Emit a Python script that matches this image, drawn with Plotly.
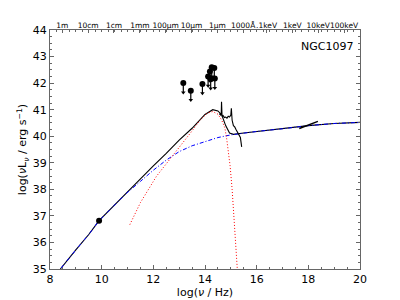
import plotly.graph_objects as go

# ---- data ----
total_x = [8.2, 8.4, 9.0, 9.5, 9.9, 10.4, 10.9, 11.5, 12.0, 12.5, 13.0, 13.5, 13.8, 14.0, 14.3,
           14.5, 14.65, 14.8, 14.95, 15.1, 15.5, 16.0, 17.0, 18.0, 19.0, 20.0]
total_y = [34.78, 35.0, 35.72, 36.3, 36.82, 37.32, 37.82, 38.38, 38.88, 39.35, 39.85, 40.3, 40.62, 40.82, 41.0,
           40.95, 40.8, 40.4, 40.12, 40.07, 40.12, 40.18, 40.28, 40.4, 40.48, 40.52]

agn_x = [8.2, 8.4, 9.0, 9.5, 9.9, 10.4, 10.9, 11.5, 12.0, 12.5, 13.0, 13.5, 14.0, 14.5, 15.0,
         15.5, 16.0, 17.0, 18.0, 19.0, 20.0]
agn_y = [34.78, 35.0, 35.72, 36.3, 36.82, 37.32, 37.8, 38.3, 38.72, 39.1, 39.42, 39.64, 39.8, 39.95, 40.05,
         40.12, 40.18, 40.28, 40.4, 40.48, 40.52]

host_x = [11.09, 11.5, 12.12, 12.5, 13.03, 13.5, 13.8, 14.1, 14.3, 14.5, 14.65, 14.77, 14.84, 14.97,
          15.05, 15.15, 15.27, 15.35]
host_y = [36.67, 37.5, 38.49, 38.95, 39.62, 40.2, 40.6, 40.88, 40.93, 40.83, 40.6, 40.31, 39.9, 38.9,
          38.0, 36.6, 35.0, 33.5]

spec_x = [14.55, 14.6, 14.63, 14.64, 14.66, 14.7, 14.75, 14.8, 14.85, 14.9, 14.95, 15.0, 15.02, 15.03,
          15.05, 15.1, 15.15, 15.2, 15.25, 15.3, 15.33, 15.37, 15.42]
spec_y = [40.85, 40.8, 40.9, 41.3, 40.75, 40.78, 40.7, 40.72, 40.68, 40.75, 40.72, 40.8, 41.05, 40.7,
          40.6, 40.4, 40.35, 40.25, 40.15, 40.1, 40.05, 39.95, 39.6]

xray_x = [17.65, 18.37]
xray_y = [40.29, 40.56]

det_x = [9.9]
det_y = [36.82]

lim_x = [13.16, 13.45, 13.9, 14.12, 14.19, 14.26, 14.36, 14.22, 14.38]
lim_y = [42.0, 41.71, 41.97, 42.25, 42.44, 42.6, 42.57, 42.15, 42.17]
arrow_len = 0.35

top_ticks = [8.477, 9.477, 10.477, 11.477, 12.477, 13.477, 14.477, 15.477, 16.383, 17.383, 18.383, 19.383]
top_labels = ["1m", "10cm", "1cm", "1mm", "100μm", "10μm", "1μm", "1000Å", ".1keV", "1keV", "10keV", "100keV"]

FONT = "DejaVu Sans"
fig = go.Figure()

fig.add_trace(go.Scatter(x=total_x, y=total_y, mode="lines", line=dict(color="black", width=1.1)))
fig.add_trace(go.Scatter(x=agn_x, y=agn_y, mode="lines",
                         line=dict(color="blue", width=1, dash="4px,2px,1px,2px")))
fig.add_trace(go.Scatter(x=host_x, y=host_y, mode="lines",
                         line=dict(color="red", width=1, dash="1px,2px")))
fig.add_trace(go.Scatter(x=spec_x, y=spec_y, mode="lines", line=dict(color="black", width=1.1)))
fig.add_trace(go.Scatter(x=xray_x, y=xray_y, mode="lines", line=dict(color="black", width=1.4)))
fig.add_trace(go.Scatter(x=det_x, y=det_y, mode="markers", marker=dict(color="black", size=6)))
fig.add_trace(go.Scatter(
    x=lim_x, y=lim_y, mode="markers", marker=dict(color="black", size=6),
    error_y=dict(type="data", symmetric=False, array=[0] * len(lim_y),
                 arrayminus=[arrow_len] * len(lim_y), width=0, thickness=1.2, color="black")))
fig.add_trace(go.Scatter(
    x=lim_x, y=[v - arrow_len for v in lim_y], mode="markers",
    marker=dict(color="black", size=4, symbol="triangle-down")))
# invisible trace on the top axis
fig.add_trace(go.Scatter(x=[8, 20], y=[35, 35], xaxis="x2", mode="markers",
                         marker=dict(opacity=0), hoverinfo="skip"))

axcol = "#666666"
fig.update_layout(
    width=392, height=292, showlegend=False,
    margin=dict(l=42, r=40, t=22, b=31, autoexpand=False),
    paper_bgcolor="white", plot_bgcolor="white",
    font=dict(family=FONT, color="black", size=11),
    xaxis=dict(range=[8, 20], dtick=2, tick0=8, showgrid=False, zeroline=False, automargin=False,
               showline=True, linecolor=axcol, linewidth=1, mirror=True,
               ticks="inside", ticklen=4, tickcolor=axcol,
               minor=dict(dtick=0.5, ticks="inside", ticklen=2, tickcolor=axcol),
               title=dict(text="log(<i>ν</i> / Hz)", standoff=1, font=dict(size=11)),
               tickfont=dict(size=11)),
    xaxis2=dict(range=[8, 20], overlaying="x", side="top", showgrid=False, zeroline=False,
                automargin=False, tickangle=0,
                tickmode="array", tickvals=top_ticks, ticktext=top_labels,
                ticks="inside", ticklen=3, tickcolor=axcol, tickfont=dict(size=7.5),
                minor=dict(dtick=0.25, ticks="inside", ticklen=1.5, tickcolor=axcol)),
    yaxis=dict(range=[35, 44], dtick=1, showgrid=False, zeroline=False, automargin=False,
               showline=True, linecolor=axcol, linewidth=1, mirror="ticks",
               ticks="inside", ticklen=4, tickcolor=axcol,
               minor=dict(dtick=0.25, ticks="inside", ticklen=2, tickcolor=axcol),
               title=dict(text="log(<i>ν</i>L<sub><i>ν</i></sub> / erg s<sup>−1</sup>)", standoff=3,
                          font=dict(size=11)),
               tickfont=dict(size=11)),
    annotations=[dict(text="NGC1097", xref="paper", yref="paper", x=0.985, y=0.965,
                      xanchor="right", yanchor="top", showarrow=False, font=dict(size=11))],
)

fig.write_html("out.html")
